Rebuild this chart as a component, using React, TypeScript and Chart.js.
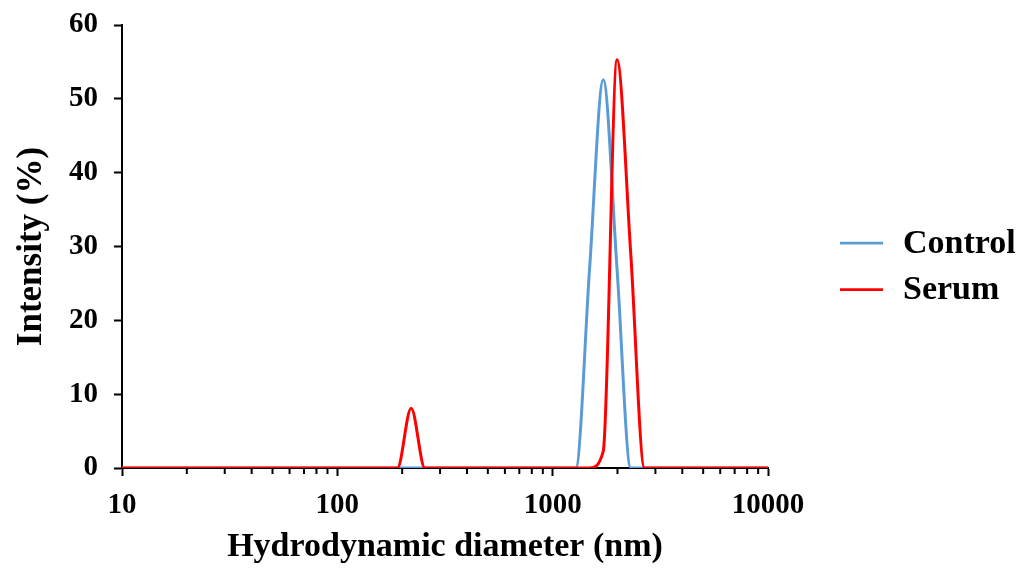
import React, { useEffect, useRef } from "react";
import { Chart, registerables } from "chart.js";

Chart.register(...registerables);

// Hydrodynamic diameter bins (nm)
const DIAMETERS = [
  8.721, 10.1, 11.7, 13.54, 15.69, 18.17, 21.04, 24.36, 28.21, 32.67,
  37.84, 43.82, 50.75, 58.77, 68.06, 78.82, 91.28, 105.7, 122.4, 141.8,
  164.2, 190.1, 220.2, 255.0, 295.3, 342.0, 396.1, 458.7, 531.2, 615.1,
  712.4, 825.0, 955.4, 1106, 1281, 1484, 1718, 1990, 2305, 2669,
  3091, 3580, 4145, 4801, 5560, 6439, 7456, 8635, 10000,
];

// Intensity (%)
const CONTROL = [
  0, 0, 0, 0, 0, 0, 0, 0, 0, 0,
  0, 0, 0, 0, 0, 0, 0, 0, 0, 0,
  0, 0, 0, 0, 0, 0, 0, 0, 0, 0,
  0, 0, 0, 0, 0, 27, 52.6, 27, 0, 0,
  0, 0, 0, 0, 0, 0, 0, 0, 0,
];

const SERUM = [
  0, 0, 0, 0, 0, 0, 0, 0, 0, 0,
  0, 0, 0, 0, 0, 0, 0, 0, 0, 0,
  0, 0, 8.1, 0, 0, 0, 0, 0, 0, 0,
  0, 0, 0, 0, 0, 0, 2.3, 55.3, 29, 0,
  0, 0, 0, 0, 0, 0, 0, 0, 0,
];

const SERIES_LABELS = ["Control", "Serum"];

const X_TICKS = [
  10, 20, 30, 40, 50, 60, 70, 80, 90,
  100, 200, 300, 400, 500, 600, 700, 800, 900,
  1000, 2000, 3000, 4000, 5000, 6000, 7000, 8000, 9000,
  10000,
];
const X_MAJOR = [10, 100, 1000, 10000];
const Y_TICKS = [0, 10, 20, 30, 40, 50, 60];

const X_TITLE = "Hydrodynamic diameter (nm)";
const Y_TITLE = "Intensity (%)";

const FONT_FAMILY = '"Liberation Serif", "Times New Roman", serif';

const minorTicksPlugin = {
  id: "minorTicks",
  beforeDatasetsDraw(chart: any) {
    const xs = chart.scales.x;
    const ctx = chart.ctx;
    ctx.save();
    ctx.strokeStyle = "#000";
    ctx.lineWidth = 2;
    X_TICKS.forEach((v) => {
      if (X_MAJOR.includes(v)) return;
      const px = xs.getPixelForValue(v);
      ctx.beginPath();
      ctx.moveTo(px, xs.top);
      ctx.lineTo(px, xs.top + 6);
      ctx.stroke();
    });
    ctx.restore();
  },
};

const legendPlugin = {
  id: "customLegend",
  afterDraw(chart: any) {
    const ctx = chart.ctx;
    const { right } = chart.chartArea;
    const y0 = 243;
    ctx.save();
    chart.data.datasets.forEach((ds: any, i: number) => {
      const y = y0 + i * 46.5;
      ctx.strokeStyle = ds.borderColor;
      ctx.lineWidth = 2.75;
      ctx.beginPath();
      ctx.moveTo(right + 72, y);
      ctx.lineTo(right + 115, y);
      ctx.stroke();
      ctx.fillStyle = "#000";
      ctx.font = `bold 34px ${FONT_FAMILY}`;
      ctx.textAlign = "left";
      ctx.textBaseline = "middle";
      ctx.fillText(ds.label, right + 135, y + 1);
    });
    ctx.restore();
  },
};

export default function App() {
  const canvasRef = useRef<HTMLCanvasElement | null>(null);

  useEffect(() => {
    if (!canvasRef.current) return;
    Chart.defaults.font.family = FONT_FAMILY;
    const chart = new Chart(canvasRef.current, {
      type: "line",
      data: {
        datasets: [
          {
            label: SERIES_LABELS[0],
            data: DIAMETERS.map((d, i) => ({ x: d, y: CONTROL[i] })),
            borderColor: "#5B9BD5",
            backgroundColor: "#5B9BD5",
            borderWidth: 3,
            pointRadius: 0,
            cubicInterpolationMode: "monotone",
            fill: false,
            order: 1,
          },
          {
            label: SERIES_LABELS[1],
            data: DIAMETERS.map((d, i) => ({ x: d, y: SERUM[i] })),
            borderColor: "#FF0000",
            backgroundColor: "#FF0000",
            borderWidth: 3,
            pointRadius: 0,
            cubicInterpolationMode: "monotone",
            fill: false,
            order: 0,
          },
        ],
      },
      options: {
        animation: false,
        responsive: true,
        maintainAspectRatio: false,
        layout: { padding: { top: 25, right: 255, left: 0, bottom: 0 } },
        plugins: {
          legend: { display: false },
          tooltip: { enabled: false },
        },
        scales: {
          x: {
            type: "logarithmic",
            min: 10,
            max: 10000,
            afterBuildTicks: (s: any) => {
              s.ticks = X_TICKS.map((v) => ({ value: v }));
            },
            afterFit: (s: any) => {
              s.height = 100;
              s.paddingLeft = 0;
              s.paddingRight = 0;
            },
            ticks: {
              autoSkip: false,
              maxRotation: 0,
              minRotation: 0,
              padding: 12,
              color: "#000",
              font: { size: 29, weight: "bold" },
              callback: (v: any) => (X_MAJOR.includes(Number(v)) ? String(v) : ""),
            },
            grid: {
              drawOnChartArea: false,
              drawTicks: true,
              tickLength: 8,
              tickWidth: 2,
              tickColor: (c: any) =>
                c.tick && X_MAJOR.includes(c.tick.value) ? "#000" : "rgba(0,0,0,0)",
            },
            border: { display: true, color: "#000", width: 2 },
            title: {
              display: true,
              text: X_TITLE,
              color: "#000",
              font: { size: 34, weight: "bold" },
              padding: { top: 0, bottom: 0 },
            },
          },
          y: {
            type: "linear",
            min: 0,
            max: 60,
            afterBuildTicks: (s: any) => {
              s.ticks = Y_TICKS.map((v) => ({ value: v }));
            },
            afterFit: (s: any) => {
              s.width = 122;
              s.paddingTop = 0;
              s.paddingBottom = 0;
            },
            ticks: {
              padding: 16,
              color: "#000",
              font: { size: 29, weight: "bold" },
            },
            grid: {
              drawOnChartArea: false,
              drawTicks: true,
              tickLength: 8,
              tickWidth: 2,
              tickColor: "#000",
            },
            border: { display: true, color: "#000", width: 2 },
            title: {
              display: true,
              text: Y_TITLE,
              color: "#000",
              font: { size: 35, weight: "bold" },
              padding: { top: 11, bottom: 0 },
            },
          },
        },
      } as any,
      plugins: [minorTicksPlugin, legendPlugin],
    });
    return () => chart.destroy();
  }, []);

  return (
    <div
      style={{
        position: "fixed",
        left: 0,
        top: 0,
        width: 1023,
        height: 568,
        background: "#fff",
      }}
    >
      <canvas ref={canvasRef} />
    </div>
  );
}
